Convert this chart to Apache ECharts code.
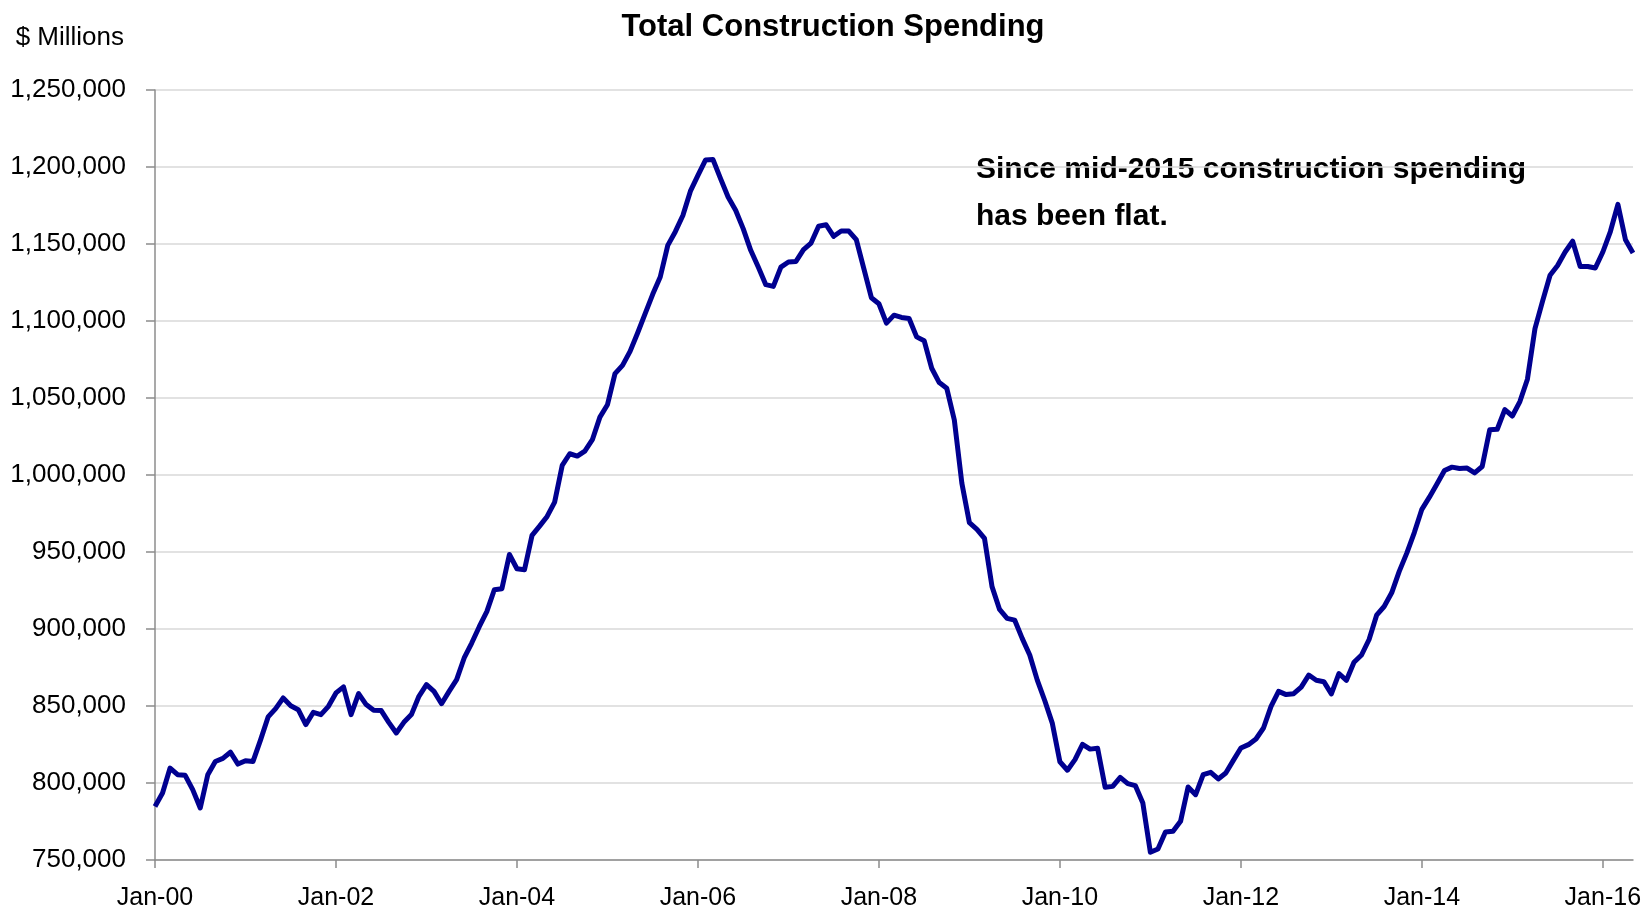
<!DOCTYPE html>
<html>
<head>
<meta charset="utf-8">
<script src="https://cdn.jsdelivr.net/npm/echarts@6/dist/echarts.min.js"></script>
<style>
  html, body { margin: 0; padding: 0; background: #fff; }
  #chart { width: 1652px; height: 912px; }
</style>
</head>
<body>
<div id="chart"></div>
<script>
// monthly total construction spending, $ millions, Jan-2000 .. May-2016
var spend2000 = [784800, 793500, 809700, 805400, 805000, 795700, 783800, 805400, 814000, 816000, 820000, 812300,
                 814500, 814000, 828000, 842900, 848300, 855200, 850200, 847600, 837900, 845900, 844400, 849800,
                 858500, 862400, 844400, 858000, 850900, 847200, 847000, 839400, 832500, 839400, 844400, 856300,
                 863900, 859500, 851500, 859500, 867100, 881200, 890900, 901500, 911300, 925500, 926100, 948400]
var spend2004 = [939100, 938500, 960800, 966800, 973100, 982400, 1006200, 1013800, 1012300, 1015500, 1022900, 1037600,
                 1045600, 1065800, 1071200, 1080300, 1092200, 1104800, 1117300, 1128600, 1149100, 1158000, 1168500, 1184300,
                 1194600, 1204500, 1204800, 1192400, 1180500, 1171900, 1160000, 1145900, 1135000, 1123600, 1122500, 1135000,
                 1138300, 1138700, 1146300, 1150600, 1161500, 1162500, 1155000, 1158400, 1158400, 1152800, 1134000, 1115100]
var spend2008 = [1111200, 1098600, 1103800, 1102300, 1101600, 1089700, 1087200, 1069300, 1060000, 1056300, 1035700, 994600,
                 969000, 964700, 958800, 927500, 912700, 906900, 905800, 893900, 883100, 866800, 853400, 838700,
                 813800, 808300, 815200, 825100, 822000, 822600, 797200, 797800, 803700, 799600, 798300, 787000,
                 755000, 757100, 768200, 768600, 775100, 797400, 792400, 805400, 806900, 802600, 806500, 814700]
var spend2012 = [822700, 824900, 828600, 835700, 849800, 859500, 857400, 858000, 862300, 870100, 866700, 865800,
                 857900, 871100, 866700, 878400, 883100, 893200, 909000, 914600, 923500, 937400, 949300, 962600,
                 977700, 985600, 994100, 1002900, 1005100, 1004200, 1004500, 1001400, 1005500, 1029400, 1029700, 1042400,
                 1038300, 1047700, 1062200, 1095000, 1112700, 1129700, 1136000, 1144800, 1151800, 1135400, 1135400, 1134400]
var spend2016 = [1144800, 1158100, 1175700, 1152700, 1144200]

var spending = spend2000.concat(spend2004, spend2008, spend2012, spend2016)

var monthNames = ['Jan', 'Feb', 'Mar', 'Apr', 'May', 'Jun', 'Jul', 'Aug', 'Sep', 'Oct', 'Nov', 'Dec']
var months = []
for (var i = 0; i < spending.length; i++) {
    var yy = i / 12 | 0
    months.push(monthNames[i % 12] + '-' + (yy < 10 ? '0' + yy : yy))
}

var yMin = 750000
var yMax = 1250000
var yStep = 50000

var FONT = "'Liberation Sans', Arial, sans-serif"
var AXIS_GREY = '#8c8c8c'

var chart = echarts.init(document.getElementById('chart'))
chart.setOption({
    animation: false,
    title: {
        text: 'Total Construction Spending',
        left: 828,
        top: 7,
        textAlign: 'center',
        textStyle: { fontFamily: FONT, fontSize: 31, fontWeight: 'bold', color: '#000' }
    },
    graphic: [{
        type: 'text',
        right: 1652 - 124,
        top: 25,
        style: { text: '$ Millions', fontFamily: FONT, fontSize: 26, fill: '#000' }
    }, {
        type: 'text',
        left: 976,
        top: 146,
        style: {
            text: 'Since mid-2015 construction spending\nhas been flat.',
            fontFamily: FONT, fontSize: 30, fontWeight: 'bold', fill: '#000', lineHeight: 47
        }
    }],
    grid: { left: 155, right: 19, top: 90, bottom: 52 },
    xAxis: {
        type: 'category',
        data: months,
        boundaryGap: false,
        axisLine: { lineStyle: { color: AXIS_GREY, width: 1.5 } },
        axisTick: {
            length: 8,
            interval: function (idx) { return idx % 24 === 0 },
            lineStyle: { color: AXIS_GREY, width: 1.5 }
        },
        axisLabel: {
            interval: function (idx) { return idx % 24 === 0 },
            margin: 26,
            fontFamily: FONT, fontSize: 25, color: '#000'
        }
    },
    yAxis: {
        type: 'value',
        min: yMin,
        max: yMax,
        interval: yStep,
        axisLine: { show: true, lineStyle: { color: AXIS_GREY, width: 1.5 } },
        axisTick: { show: true, length: 9, lineStyle: { color: AXIS_GREY, width: 1.5 } },
        splitLine: { lineStyle: { color: '#d9d9d9', width: 1.5 } },
        axisLabel: {
            margin: 29,
            fontFamily: FONT, fontSize: 26, color: '#000',
            formatter: function (v) { return v.toLocaleString('en-US') }
        }
    },
    series: [{
        type: 'line',
        data: spending,
        showSymbol: false,
        lineStyle: { color: '#000090', width: 5, join: 'round' },
        itemStyle: { color: '#000090' }
    }]
})
</script>
</body>
</html>
